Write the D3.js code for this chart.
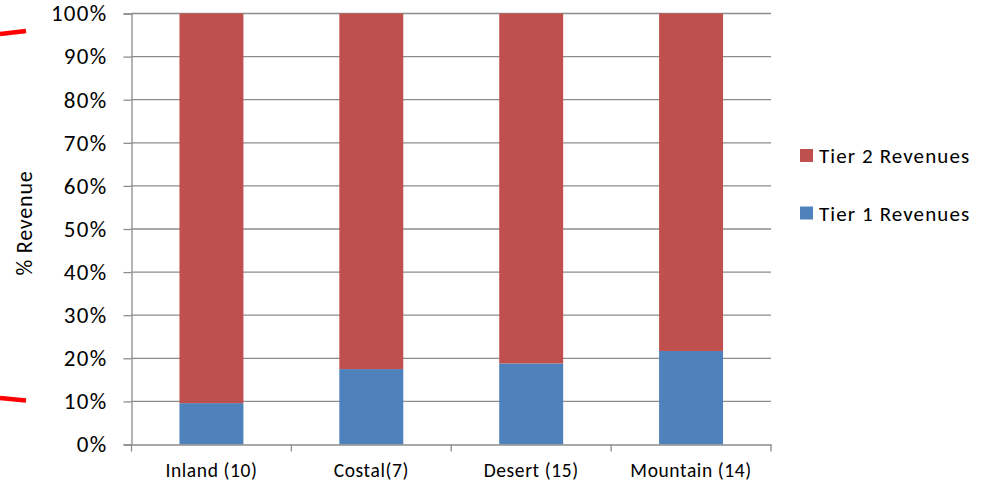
<!DOCTYPE html>
<html>
<head>
<meta charset="utf-8">
<script src="https://cdn.jsdelivr.net/npm/d3@7"></script>
<style>
  body { margin: 0; background: #fff; }
  svg { display: block; font-family: Carlito, Calibri, Lato, sans-serif; }
</style>
</head>
<body>
<script>
const categories = ["Inland (10)", "Costal(7)", "Desert (15)", "Mountain (14)"];
const tier1 = [9.6, 17.5, 18.8, 21.7];
const tier2 = [90.4, 82.5, 81.2, 78.3];
const yTicks = [0, 10, 20, 30, 40, 50, 60, 70, 80, 90, 100];
const seriesNames = ["Tier 2 Revenues", "Tier 1 Revenues"];
const colors = { "Tier 1 Revenues": "#4f81bd", "Tier 2 Revenues": "#c0504d" };

const width = 992, height = 487;
const plotLeft = 131.5, plotRight = 771, plotTop = 13.5, plotBottom = 444.5;

const svg = d3.select("body").append("svg").attr("width", width).attr("height", height);

const x = d3.scaleBand().domain(categories).range([plotLeft, plotRight]).paddingInner(0.6).paddingOuter(0.3);
const y = d3.scaleLinear().domain([0, 100]).range([plotBottom, plotTop]);

// gridlines
svg.append("g")
  .selectAll("line")
  .data(yTicks.filter(d => d > 0))
  .enter()
  .append("line")
  .attr("x1", plotLeft).attr("x2", plotRight)
  .attr("y1", d => y(d)).attr("y2", d => y(d))
  .attr("stroke", "#8c8c8c").attr("stroke-width", 1.3);

// stacked bars
const rows = categories.map((c, i) => ({ cat: c, "Tier 1 Revenues": tier1[i], "Tier 2 Revenues": tier2[i] }));
const stack = d3.stack().keys(["Tier 1 Revenues", "Tier 2 Revenues"])(rows);

svg.append("g")
  .selectAll("g")
  .data(stack)
  .enter()
  .append("g")
  .attr("fill", d => colors[d.key])
  .selectAll("rect")
  .data(d => d)
  .enter()
  .append("rect")
  .attr("x", d => x(d.data.cat))
  .attr("width", x.bandwidth())
  .attr("y", d => y(d[1]))
  .attr("height", d => y(d[0]) - y(d[1]));

// y axis
const yAxis = svg.append("g")
  .attr("transform", `translate(${plotLeft},0)`)
  .call(d3.axisLeft(y).tickValues(yTicks).tickFormat(d => d + "%").tickSize(8).tickPadding(16));
yAxis.select(".domain").attr("stroke", "#8c8c8c").attr("stroke-width", 1.3);
yAxis.selectAll(".tick line").attr("stroke", "#8c8c8c").attr("stroke-width", 1.3);
yAxis.selectAll(".tick text").attr("font-size", 23).attr("letter-spacing", 1.3).attr("fill", "#000")
  .attr("font-family", "Carlito, Calibri, Lato, sans-serif");

// x axis
const xAxis = svg.append("g")
  .attr("transform", `translate(0,${plotBottom})`)
  .call(d3.axisBottom(x).tickSize(0).tickPadding(19));
xAxis.select(".domain").attr("stroke", "#8c8c8c").attr("stroke-width", 1.3);
xAxis.selectAll(".tick text").attr("font-size", 19.5).attr("letter-spacing", 0.6).attr("fill", "#000")
  .attr("font-family", "Carlito, Calibri, Lato, sans-serif");

// category separators
svg.append("g")
  .selectAll("line")
  .data(d3.range(categories.length + 1))
  .enter()
  .append("line")
  .attr("x1", d => plotLeft + d * (plotRight - plotLeft) / categories.length)
  .attr("x2", d => plotLeft + d * (plotRight - plotLeft) / categories.length)
  .attr("y1", plotBottom).attr("y2", plotBottom + 7)
  .attr("stroke", "#8c8c8c").attr("stroke-width", 1.3);

// y title
svg.append("text")
  .attr("transform", "translate(32,223) rotate(-90)")
  .attr("text-anchor", "middle")
  .attr("font-size", 22)
  .attr("letter-spacing", 0.8)
  .text("% Revenue");

// legend
const legend = svg.append("g")
  .selectAll("g")
  .data(seriesNames)
  .enter()
  .append("g")
  .attr("transform", (d, i) => `translate(800,${149 + i * 57.5})`);
legend.append("rect").attr("width", 13).attr("height", 13).attr("fill", d => colors[d]);
legend.append("text").attr("x", 19).attr("y", 14).attr("font-size", 21)
  .attr("letter-spacing", 1.1).text(d => d);

// red pen marks
svg.append("g")
  .selectAll("line")
  .data([[34, 31], [398, 400.5]])
  .enter()
  .append("line")
  .attr("x1", 0).attr("x2", 26)
  .attr("y1", d => d[0]).attr("y2", d => d[1])
  .attr("stroke", "#ff0000").attr("stroke-width", 4.5);
</script>
</body>
</html>
